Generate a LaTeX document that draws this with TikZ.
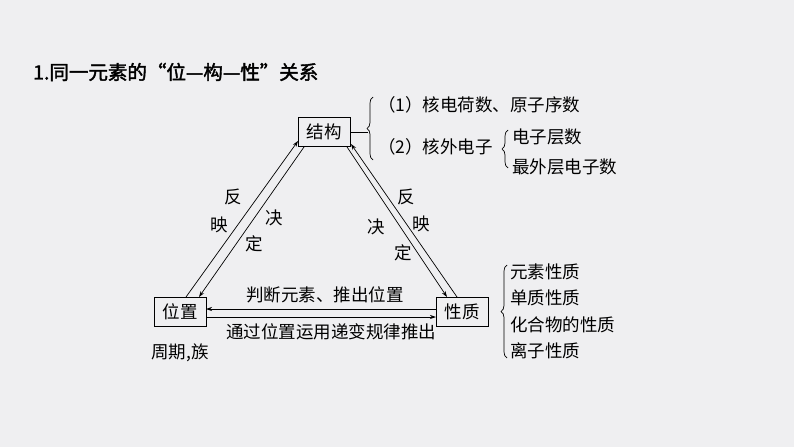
\documentclass[tikz,border=0pt]{standalone}
\usepackage{fontspec}
\setmainfont{Liberation Serif}
\newfontfamily\cjk{Noto Sans CJK SC}
\newfontfamily\cjkb{Noto Sans CJK SC}[FakeBold=2]
\usetikzlibrary{arrows.meta,decorations.pathreplacing}
\definecolor{bg}{HTML}{EFEFF1}
\begin{document}
\begin{tikzpicture}[x=1pt,y=-1pt,
  txt/.style={inner sep=0pt,font=\cjk\fontsize{17.5}{20}\selectfont,anchor=west},
  ch/.style={inner sep=0pt,font=\cjk\fontsize{17.5}{20}\selectfont},
  box/.style={draw,line width=0.8pt,minimum width=52pt,minimum height=29pt,inner sep=0pt,font=\cjk\fontsize{17.5}{20}\selectfont},
  arr/.style={-{Stealth[length=6pt,width=4pt]},line width=0.7pt},
  brc/.style={decorate,decoration={brace,amplitude=6pt},line width=0.7pt}]
\fill[bg] (0,0) rectangle (794,447);
\useasboundingbox (0,0) rectangle (794,447);
\node[anchor=west,inner sep=0pt,font=\cjkb\fontsize{19.5}{22}\selectfont] (title) at (33,72) {1.同一元素的“位—构—性”关系};
\node[box] (jg) at (324,132) {结构};
\node[box] (wz) at (180,311.5) {位置};
\node[box] (xz) at (462,311.5) {性质};
% left side
\draw[arr] (186,297) -- (298,141);
\draw[arr] (304,147) -- (199,297);
% right side
\draw[arr] (457,297) -- (351,144);
\draw[arr] (347,147) -- (447,297);
% horizontal
\draw[arr] (436,309) -- (206,309);
\draw[arr] (206,317) -- (436,317);
\node[ch] (t1) at (325,295) {判断元素、推出位置};
\node[ch] (t2) at (331,332) {通过位置运用递变规律推出};
\node[ch] (t3) at (180,353) {周期,族};
\node[ch] (a1) at (233,197) {反};
\node[ch] (a2) at (219,225) {映};
\node[ch] (a3) at (274,218) {决};
\node[ch] (a4) at (254,244) {定};
\node[ch] (b1) at (406,197) {反};
\node[ch] (b2) at (421,224) {映};
\node[ch] (b3) at (376,227) {决};
\node[ch] (b4) at (403,253) {定};
% structure brace
\coordinate (bt) at (373,97);
\coordinate (bb) at (373,160);
\draw[line width=0.7pt] (jg.east) -- (368,132);
\draw[brc] (bb) -- (bt);
\node[txt] (s1) at (378,105) {（1）核电荷数、原子序数};
\node[txt] (s2) at (378,147) {（2）核外电子};
\draw[brc] (508,168) -- (508,130);
\node[txt] (s3) at (512,137) {电子层数};
\node[txt] (s4) at (512,167) {最外层电子数};
% property brace
\draw[brc] (507,358) -- (507,265);
\node[txt] (p1) at (510,272) {元素性质};
\node[txt] (p2) at (510,298) {单质性质};
\node[txt] (p3) at (510,325) {化合物的性质};
\node[txt] (p4) at (510,351) {离子性质};
\end{tikzpicture}
\end{document}
